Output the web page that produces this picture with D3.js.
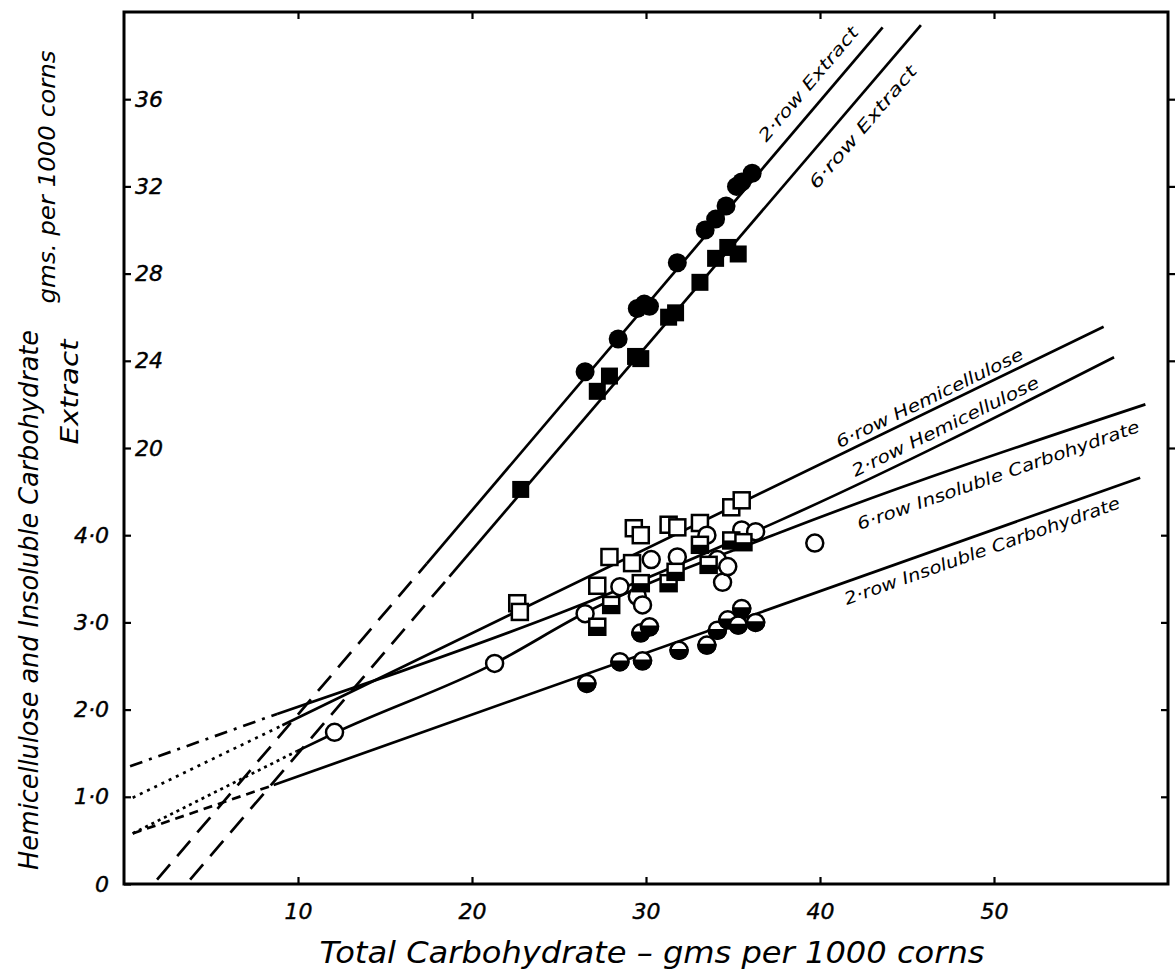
<!DOCTYPE html>
<html>
<head>
<meta charset="utf-8">
<script src="https://cdnjs.cloudflare.com/ajax/libs/d3/7.8.5/d3.min.js"></script>
<style>
  body { margin: 0; background: #ffffff; }
  svg text { font-family: "DejaVu Sans", sans-serif; font-style: italic; fill: #000; }
</style>
</head>
<body>
<script>

// Axis ticks
const xTicks = [10, 20, 30, 40, 50];
const hemiTicks = [0, 1, 2, 3, 4];
const hemiTickLabels = ["0", "1·0", "2·0", "3·0", "4·0"];
const extractTicks = [20, 24, 28, 32, 36];

// Points: [total carbohydrate, value]
// extract points are on the extract scale (gms per 1000 corns)
const filledCircles = [[26.5, 23.5], [28.4, 25.0], [29.5, 26.4], [29.9, 26.6], [30.2, 26.5], [31.8, 28.5],
    [33.4, 30.0], [34.0, 30.5], [34.6, 31.1], [35.2, 32.0], [35.5, 32.2], [36.1, 32.6]];
const filledSquares = [[22.8, 18.1], [27.2, 22.6], [27.9, 23.3], [29.4, 24.2], [29.7, 24.1], [31.3, 26.0],
    [31.7, 26.2], [33.1, 27.6], [34.0, 28.7], [34.7, 29.2], [35.3, 28.9]];
const openSquares = [[22.6, 3.22], [22.75, 3.12], [27.2, 3.42], [27.9, 3.75], [29.2, 3.68], [29.3, 4.08],
    [29.7, 4.0], [31.3, 4.12], [31.8, 4.09], [33.1, 4.14], [34.9, 4.32], [35.5, 4.40]];
const halfSquares = [[27.2, 2.95], [28.0, 3.2], [29.7, 3.45], [31.3, 3.45], [31.7, 3.58], [33.1, 3.89],
    [33.6, 3.66], [34.9, 3.94], [35.6, 3.92]];
const openCircles = [[12.1, 1.74], [21.3, 2.53], [26.5, 3.10], [28.5, 3.41], [29.5, 3.30], [29.8, 3.20],
    [30.3, 3.72], [31.8, 3.75], [33.5, 4.0], [34.1, 3.72], [34.4, 3.46], [34.7, 3.64], [35.5, 4.06],
    [36.3, 4.04], [39.7, 3.91]];
const halfCircles = [[26.6, 2.30], [28.5, 2.55], [29.8, 2.56], [29.7, 2.88], [30.2, 2.95], [31.9, 2.68],
    [33.5, 2.74], [34.1, 2.91], [34.7, 3.03], [35.3, 2.97], [35.5, 3.16], [36.3, 3.0]];

// Fitted lines: extrapolated part and drawn part
const extract2RowExt = [[1.9, 0.2], [17.4, 14.7]];
const extract2RowFit = [[17.4, 14.7], [43.6, 39.3]];
const extract6RowExt = [[3.8, 0.2], [18.7, 14.1]];
const extract6RowFit = [[18.7, 14.1], [45.8, 39.4]];
const hemi6RowExt = [[0.5, 0.99], [9.1, 1.82]];
const hemi6RowFit = [[9.1, 1.82], [56.3, 6.39]];
const hemi2RowExt = [[0.35, 1.35], [8.8, 1.95]];
const hemi2RowFit = [[8.8, 1.95], [15.8, 2.43], [25.1, 3.11], [37.7, 4.17], [56.9, 6.04]];
const insol6RowExt = [[0.5, 0.58], [9.9, 1.52]];
const insol6RowFit = [[9.9, 1.52], [12.2, 1.74], [21.3, 2.53], [26.5, 3.11], [37.7, 4.03], [58.7, 5.50]];
const insol2RowExt = [[0.5, 0.58], [8.6, 1.135]];
const insol2RowFit = [[8.6, 1.135], [58.4, 4.66]];

const lineLabels = ["2·row Extract", "6·row Extract", "6·row Hemicellulose", "2·row Hemicellulose",
    "6·row Insoluble Carbohydrate", "2·row Insoluble Carbohydrate"];

const width = 1176, height = 979;

const svg = d3.select("body").append("svg")
    .attr("width", width)
    .attr("height", height);

svg.append("rect").attr("width", width).attr("height", height).attr("fill", "#ffffff");

const x = d3.scaleLinear().domain([0, 60]).range([124, 1168]);
const y = d3.scaleLinear().domain([0, 10]).range([884, 12]);
const yExtract = d3.scaleLinear().domain([0, 40]).range([884, 12]);

// Axes, ticks pointing inward
function styleAxis(g) {
    g.select(".domain").remove();
    g.selectAll(".tick line").attr("stroke", "#000").attr("stroke-width", 2.2);
    g.selectAll(".tick text").attr("font-size", 22).attr("fill", "#000")
        .attr("font-family", "'DejaVu Sans', sans-serif").attr("font-style", "italic")
        .attr("stroke", "#000").attr("stroke-width", 0.4);
}

svg.append("g")
    .attr("transform", "translate(0," + y(0) + ")")
    .call(d3.axisBottom(x).tickValues(xTicks).tickSize(-7).tickPadding(19))
    .call(styleAxis);

svg.append("g")
    .attr("transform", "translate(0," + y(10) + ")")
    .call(d3.axisTop(x).tickValues(xTicks).tickSize(-7).tickFormat(""))
    .call(styleAxis);

svg.append("g")
    .attr("transform", "translate(" + x(0) + ",0)")
    .call(d3.axisLeft(y).tickValues(hemiTicks).tickSize(-7).tickPadding(15)
        .tickFormat((d, i) => hemiTickLabels[i]))
    .call(styleAxis);

svg.append("g")
    .attr("transform", "translate(" + x(0) + ",0)")
    .call(d3.axisRight(yExtract).tickValues(extractTicks).tickSize(7).tickPadding(4))
    .call(styleAxis);

svg.append("g")
    .attr("transform", "translate(" + x(60) + ",0)")
    .call(d3.axisRight(y).tickValues(hemiTicks.slice(1)).tickSize(-7).tickFormat(""))
    .call(styleAxis);

svg.append("g")
    .attr("transform", "translate(" + x(60) + ",0)")
    .call(d3.axisLeft(yExtract).tickValues(extractTicks).tickSize(-7).tickFormat(""))
    .call(styleAxis);

// frame
svg.append("rect")
    .attr("x", x(0)).attr("y", y(10))
    .attr("width", x(60) - x(0)).attr("height", y(0) - y(10))
    .attr("fill", "none").attr("stroke", "#000").attr("stroke-width", 3);

// Fitted lines
const lineSpecs = [
    {ext: extract2RowExt, fit: extract2RowFit, ys: yExtract, dash: "20,11"},
    {ext: extract6RowExt, fit: extract6RowFit, ys: yExtract, dash: "20,11"},
    {ext: hemi6RowExt, fit: hemi6RowFit, ys: y, dash: "3,5"},
    {ext: hemi2RowExt, fit: hemi2RowFit, ys: y, dash: "13,7,3,7"},
    {ext: insol6RowExt, fit: insol6RowFit, ys: y, dash: "3,4"},
    {ext: insol2RowExt, fit: insol2RowFit, ys: y, dash: "9,6"}
];

const plot = svg.append("g").attr("class", "lines");

lineSpecs.forEach(function(spec) {
    let path = d3.line()
        .x(d => x(d[0]))
        .y(d => spec.ys(d[1]))
        .curve(d3.curveMonotoneX);

    plot.append("path")
        .attr("d", path(spec.ext))
        .attr("fill", "none")
        .attr("stroke", "#000")
        .attr("stroke-width", 2.7)
        .attr("stroke-dasharray", spec.dash);

    plot.append("path")
        .attr("d", path(spec.fit))
        .attr("fill", "none")
        .attr("stroke", "#000")
        .attr("stroke-width", 2.7);
});

// Labels along the lines: position on the line (data x) and offset from it
const labelPlacement = [
    {at: 40.2, off: -14, len: 144},
    {at: 41.5, off: 28, len: 156},
    {at: 46.6, off: -6, len: 206},
    {at: 47.5, off: -6, len: 206},
    {at: 49.9, off: 24, len: 298},
    {at: 49.0, off: 22, len: 291}
];

function pointOn(pts, ys, xv) {
    for (let i = 0; i < pts.length - 1; i++) {
        let a = pts[i], b = pts[i + 1];
        if (xv >= a[0] && xv <= b[0]) {
            let t = (xv - a[0]) / (b[0] - a[0]);
            let px = x(xv), py = ys(a[1] + t * (b[1] - a[1]));
            let ang = Math.atan2(ys(b[1]) - ys(a[1]), x(b[0]) - x(a[0])) * 180 / Math.PI;
            return [px, py, ang];
        }
    }
    return [0, 0, 0];
}

lineLabels.forEach(function(label, i) {
    let spec = lineSpecs[i];
    let place = labelPlacement[i];
    let p = pointOn(spec.fit, spec.ys, place.at);
    svg.append("text")
        .attr("transform", "translate(" + p[0] + "," + p[1] + ")rotate(" + p[2] + ")")
        .attr("y", place.off)
        .attr("text-anchor", "middle")
        .attr("font-size", 17)
        .attr("textLength", place.len)
        .attr("lengthAdjust", "spacingAndGlyphs")
        .text(label);
});

// Markers
const marks = svg.append("g").attr("class", "marks");

marks.selectAll(".filledSquare")
    .data(filledSquares).enter()
    .append("rect")
    .attr("x", d => x(d[0]) - 8.5)
    .attr("y", d => yExtract(d[1]) - 8.5)
    .attr("width", 17).attr("height", 17)
    .attr("fill", "#000");

marks.selectAll(".filledCircle")
    .data(filledCircles).enter()
    .append("circle")
    .attr("cx", d => x(d[0]))
    .attr("cy", d => yExtract(d[1]))
    .attr("r", 9.5)
    .attr("fill", "#000");

function drawSquares(data, half) {
    let g = marks.append("g");
    data.forEach(function(d) {
        let cx = x(d[0]), cy = y(d[1]);
        g.append("rect")
            .attr("x", cx - 8).attr("y", cy - 8)
            .attr("width", 16).attr("height", 16)
            .attr("fill", "#fff").attr("stroke", "#000").attr("stroke-width", 2.5);
        if (half) {
            g.append("rect")
                .attr("x", cx - 8).attr("y", cy)
                .attr("width", 16).attr("height", 8)
                .attr("fill", "#000");
        }
    });
}

function drawCircles(data, half) {
    let g = marks.append("g");
    let r = 8.5;
    data.forEach(function(d) {
        let cx = x(d[0]), cy = y(d[1]);
        g.append("circle")
            .attr("cx", cx).attr("cy", cy).attr("r", r)
            .attr("fill", "#fff").attr("stroke", "#000").attr("stroke-width", 2.5);
        if (half) {
            g.append("path")
                .attr("d", "M" + (cx - r) + "," + cy + "A" + r + "," + r + " 0 0 0 " + (cx + r) + "," + cy + "Z")
                .attr("fill", "#000").attr("stroke", "#000").attr("stroke-width", 2.5);
        }
    });
}

drawSquares(openSquares, false);
drawCircles(openCircles, false);
drawSquares(halfSquares, true);
drawCircles(halfCircles, true);

// Axis titles
svg.append("text")
    .attr("x", 652).attr("y", 963)
    .attr("text-anchor", "middle")
    .attr("font-size", 30)
    .attr("textLength", 665)
    .attr("lengthAdjust", "spacingAndGlyphs")
    .text("Total Carbohydrate – gms per 1000 corns");

function yTitle(text, bx, cy, size, len) {
    svg.append("text")
        .attr("transform", "translate(" + bx + "," + cy + ")rotate(-90)")
        .attr("text-anchor", "middle")
        .attr("font-size", size)
        .attr("textLength", len)
        .attr("lengthAdjust", "spacingAndGlyphs")
        .text(text);
}

yTitle("Hemicellulose and Insoluble Carbohydrate", 38, 600, 27, 540);
yTitle("Extract", 78, 392, 24, 105);
yTitle("gms. per 1000 corns", 55, 177, 23, 253);

</script>
</body>
</html>
